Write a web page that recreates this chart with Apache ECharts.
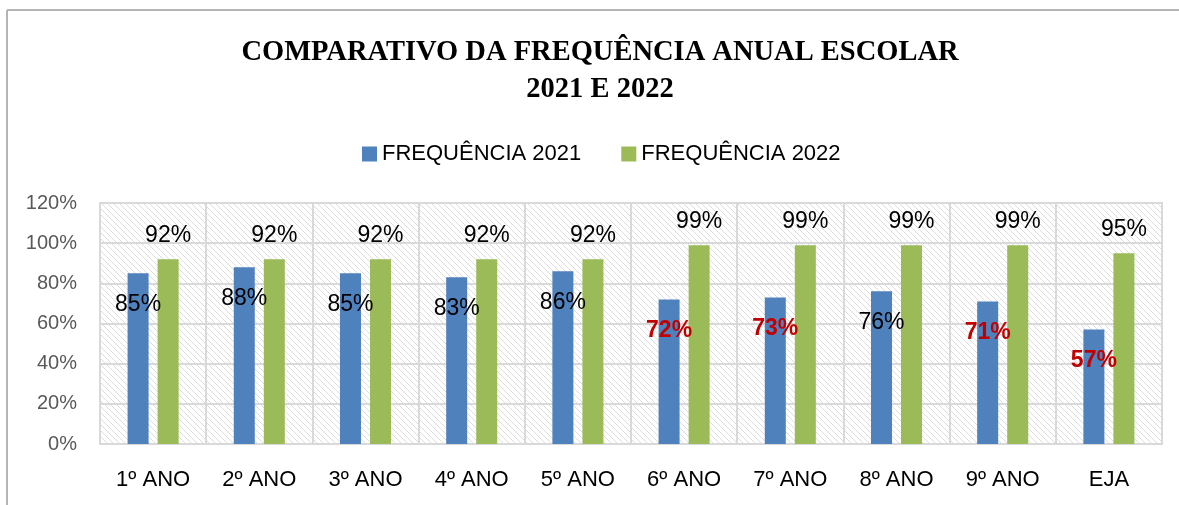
<!DOCTYPE html>
<html>
<head>
<meta charset="utf-8">
<script src="https://cdn.jsdelivr.net/npm/echarts@6/dist/echarts.min.js"></script>
<style>
  html, body { margin: 0; padding: 0; background: #fff; }
  #chart { width: 1179px; height: 505px; }
</style>
</head>
<body>
<div id="chart"></div>
<script>
// dados
var anos = ['1º ANO', '2º ANO', '3º ANO', '4º ANO', '5º ANO', '6º ANO', '7º ANO', '8º ANO', '9º ANO', 'EJA'];
var freq2021 = [85, 88, 85, 83, 86, 72, 73, 76, 71, 57];
var freq2022 = [92, 92, 92, 92, 92, 99, 99, 99, 99, 95];
// rotulos de 2021 destacados em vermelho
var destaque2021 = [false, false, false, false, false, true, true, false, true, true];
var nomes = ['FREQUÊNCIA 2021', 'FREQUÊNCIA 2022'];
var yTicks = [0, 20, 40, 60, 80, 100, 120];

// hachura diagonal do fundo
function hachura() {
  var s = 6;
  var c = document.createElement('canvas');
  c.width = s; c.height = s;
  var ctx = c.getContext('2d');
  ctx.fillStyle = '#ffffff';
  ctx.fillRect(0, 0, s, s);
  ctx.strokeStyle = '#dcdcdc';
  ctx.lineWidth = 1;
  ctx.beginPath();
  ctx.moveTo(-1, -1); ctx.lineTo(s + 1, s + 1);
  ctx.moveTo(-1, s - 1); ctx.lineTo(1, s + 1);
  ctx.moveTo(s - 1, -1); ctx.lineTo(s + 1, 1);
  ctx.stroke();
  return c;
}

var fonte = '"Liberation Sans", Arial, sans-serif';
var myChart = echarts.init(document.getElementById('chart'));

var dados2021 = freq2021.map(function (v, i) {
  var item = { value: v };
  if (destaque2021[i]) {
    item.label = { color: '#C00000', fontWeight: 'bold' };
  }
  return item;
});

var option = {
  backgroundColor: '#ffffff',
  animation: false,
  title: {
    text: 'COMPARATIVO DA FREQUÊNCIA ANUAL ESCOLAR\n2021 E 2022',
    left: 595,
    textAlign: 'center',
    top: 29,
    textStyle: {
      fontFamily: '"Liberation Serif", "DejaVu Serif", serif',
      fontWeight: 'bold',
      fontSize: 28.5,
      lineHeight: 37,
      color: '#000'
    }
  },
  legend: {
    data: nomes,
    top: 138,
    left: 357,
    itemWidth: 15,
    itemHeight: 15,
    itemGap: 40,
    icon: 'rect',
    textStyle: { fontFamily: fonte, fontSize: 22, color: '#000' }
  },
  grid: {
    left: 100,
    right: 17,
    top: 203,
    bottom: 61,
    show: true,
    backgroundColor: { image: hachura(), repeat: 'repeat' },
    borderColor: '#d9d9d9',
    borderWidth: 2,
    containLabel: false
  },
  xAxis: {
    type: 'category',
    data: anos,
    axisTick: { show: false },
    axisLine: { lineStyle: { color: '#d9d9d9', width: 2 } },
    axisLabel: { fontFamily: fonte, fontSize: 22, color: '#000', margin: 25 },
    splitLine: { show: true, lineStyle: { color: '#d9d9d9', width: 2 } }
  },
  yAxis: {
    type: 'value',
    min: yTicks[0],
    max: yTicks[yTicks.length - 1],
    interval: 20,
    axisLine: { show: false },
    axisTick: { show: false },
    axisLabel: { fontFamily: fonte, fontSize: 20, color: '#595959', margin: 23, formatter: '{value}%' },
    splitLine: { lineStyle: { color: '#d9d9d9', width: 2 } }
  },
  series: [
    {
      name: nomes[0],
      type: 'bar',
      barWidth: 21,
      barGap: '43%',
      itemStyle: { color: '#4F81BD' },
      label: {
        show: true,
        position: 'insideTop',
        distance: 20,
        fontFamily: fonte,
        fontSize: 23,
        color: '#000',
        formatter: '{c}%'
      },
      data: dados2021
    },
    {
      name: nomes[1],
      type: 'bar',
      barWidth: 21,
      itemStyle: { color: '#9BBB59' },
      label: {
        show: true,
        position: 'top',
        distance: 12,
        fontFamily: fonte,
        fontSize: 23,
        color: '#000',
        formatter: '{c}%'
      },
      data: freq2022
    }
  ],
  graphic: [
    { type: 'line', shape: { x1: 7, y1: 10, x2: 1179, y2: 10 }, style: { stroke: '#b5b5b5', lineWidth: 2 } },
    { type: 'line', shape: { x1: 7, y1: 10, x2: 7, y2: 505 }, style: { stroke: '#b5b5b5', lineWidth: 2 } }
  ]
};

myChart.setOption(option);
</script>
</body>
</html>
